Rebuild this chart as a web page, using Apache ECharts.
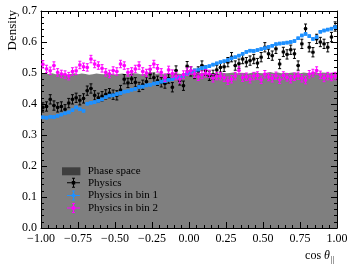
<!DOCTYPE html>
<html>
<head>
<meta charset="utf-8">
<script src="https://cdn.jsdelivr.net/npm/echarts@6/dist/echarts.min.js"></script>
<style>
html,body{margin:0;padding:0;background:#fff;}
#chart{width:357px;height:267px;}
</style>
</head>
<body>
<div id="chart"></div>
<script>
// ---- data ----
const binRange = [-1, 1];
const nBins = 80;
const xTicks = [-1.00, -0.75, -0.50, -0.25, 0.00, 0.25, 0.50, 0.75, 1.00];
const yTicks = [0.0, 0.1, 0.2, 0.3, 0.4, 0.5, 0.6, 0.7];
const seriesNames = ['Phase space', 'Physics', 'Physics in bin 1', 'Physics in bin 2'];

const phaseSpace = [0.498,0.497,0.499,0.496,0.497,0.498,0.495,0.497,0.499,0.496,0.498,0.497,0.494,0.496,0.498,0.497,0.496,0.499,0.497,0.495,
0.497,0.498,0.496,0.497,0.499,0.498,0.496,0.497,0.495,0.498,0.497,0.499,0.496,0.498,0.497,0.500,0.498,0.497,0.499,0.501,
0.498,0.500,0.499,0.501,0.497,0.499,0.500,0.498,0.501,0.499,0.500,0.502,0.499,0.501,0.500,0.498,0.501,0.502,0.500,0.499,
0.501,0.503,0.500,0.502,0.499,0.501,0.500,0.502,0.501,0.499,0.502,0.500,0.501,0.503,0.500,0.502,0.501,0.499,0.502,0.500];

const physics = [0.389,0.392,0.415,0.395,0.389,0.392,0.383,0.403,0.415,0.420,0.412,0.418,0.443,0.450,0.428,0.420,0.425,0.431,0.435,0.430,
0.428,0.445,0.480,0.468,0.481,0.470,0.455,0.462,0.472,0.497,0.485,0.475,0.470,0.466,0.482,0.454,0.508,0.476,0.459,0.522,
0.505,0.497,0.505,0.524,0.508,0.491,0.494,0.510,0.518,0.520,0.535,0.551,0.524,0.530,0.545,0.535,0.540,0.545,0.532,0.551,
0.583,0.562,0.556,0.578,0.529,0.568,0.560,0.575,0.562,0.524,0.594,0.643,0.583,0.567,0.610,0.600,0.594,0.583,0.616,0.650];

const physicsBin1 = [0.357,0.356,0.359,0.358,0.362,0.366,0.370,0.373,0.380,0.389,0.383,0.378,0.401,0.404,0.406,0.410,0.415,0.422,0.427,0.428,
0.432,0.435,0.440,0.441,0.446,0.449,0.455,0.456,0.460,0.462,0.466,0.468,0.472,0.474,0.478,0.480,0.484,0.487,0.492,0.497,
0.504,0.508,0.511,0.516,0.519,0.522,0.527,0.531,0.535,0.538,0.542,0.547,0.551,0.556,0.562,0.568,0.572,0.571,0.574,0.577,
0.580,0.584,0.588,0.593,0.595,0.596,0.598,0.600,0.603,0.612,0.621,0.626,0.619,0.610,0.616,0.633,0.637,0.640,0.643,0.648];

const physicsBin2 = [0.528,0.513,0.507,0.524,0.502,0.497,0.495,0.490,0.505,0.507,0.526,0.520,0.518,0.545,0.529,0.524,0.515,0.502,0.497,0.508,
0.505,0.529,0.524,0.502,0.505,0.513,0.524,0.505,0.500,0.512,0.529,0.515,0.502,0.485,0.510,0.498,0.490,0.480,0.495,0.504,
0.508,0.497,0.488,0.494,0.499,0.497,0.483,0.490,0.490,0.485,0.475,0.480,0.490,0.508,0.485,0.488,0.480,0.490,0.492,0.478,
0.496,0.487,0.483,0.491,0.478,0.492,0.486,0.480,0.488,0.491,0.483,0.477,0.496,0.500,0.508,0.494,0.484,0.490,0.487,0.490];

const physicsErr = 0.015;
const bin1Err = 0.004;
const bin2Err = 0.012;

// ---- build ----
const binWidth = (binRange[1] - binRange[0]) / nBins;
const edges = Array.from({length: nBins + 1}, (_, i) => binRange[0] + i * binWidth);
const centers = edges.slice(0, nBins).map(e => e + binWidth / 2);

const phaseData = edges.map((e, i) => [e, phaseSpace[Math.min(i, nBins - 1)]]);
const ebData = (vals, err) => centers.map((c, i) => [c, vals[i], err]);

const FONT = 'Liberation Serif';

function errRender(markerSize) {
  return function (params, api) {
    const x = api.value(0), y = api.value(1), e = api.value(2);
    const hw = binWidth / 2;
    const pL = api.coord([x - hw, y]), pR = api.coord([x + hw, y]);
    const pT = api.coord([x, y + e]), pB = api.coord([x, y - e]);
    const pc = api.coord([x, y]);
    const color = api.visual('color');
    const s = markerSize;
    return {
      type: 'group',
      children: [
        {type: 'line', shape: {x1: pL[0], y1: pL[1], x2: pR[0], y2: pR[1]}, style: {stroke: color, lineWidth: 1}},
        {type: 'line', shape: {x1: pT[0], y1: pT[1], x2: pB[0], y2: pB[1]}, style: {stroke: color, lineWidth: 1}},
        {type: 'line', shape: {x1: pT[0] - 1.5, y1: pT[1], x2: pT[0] + 1.5, y2: pT[1]}, style: {stroke: color, lineWidth: 1}},
        {type: 'line', shape: {x1: pB[0] - 1.5, y1: pB[1], x2: pB[0] + 1.5, y2: pB[1]}, style: {stroke: color, lineWidth: 1}},
        {type: 'rect', shape: {x: pc[0] - s / 2, y: pc[1] - s / 2, width: s, height: s}, style: {fill: color}}
      ]
    };
  };
}

const rectIcon = 'path://M0,0h23v10h-23z';
const crossIcon = 'path://M0,4.5h13v1h-13z M6,0h1v10h-1z M4.8,3.3h3.4v3.4h-3.4z M5,0h3v1h-3z M5,9h3v1h-3z';

const axisCommon = {
  type: 'value',
  axisLine: {show: true, onZero: false, lineStyle: {color: '#000', width: 1}},
  axisTick: {show: true, inside: true, length: 6, lineStyle: {color: '#000', width: 1}},
  minorTick: {show: true, splitNumber: 5, length: 3, lineStyle: {color: '#000', width: 1}},
  splitLine: {show: false},
  minorSplitLine: {show: false}
};

const option = {
  animation: false,
  backgroundColor: '#fff',
  grid: {left: 41, right: 20, top: 11, bottom: 39, containLabel: false},
  xAxis: [
    Object.assign({}, axisCommon, {
      position: 'bottom', min: xTicks[0], max: xTicks[xTicks.length - 1], interval: xTicks[1] - xTicks[0],
      axisLabel: {show: true, margin: 5, color: '#000', fontFamily: FONT, fontSize: 12,
        formatter: v => (v < 0 ? '\u2212' : '') + Math.abs(v).toFixed(2), showMinLabel: true, showMaxLabel: true}
    }),
    Object.assign({}, axisCommon, {
      position: 'top', min: xTicks[0], max: xTicks[xTicks.length - 1], interval: xTicks[1] - xTicks[0],
      axisLabel: {show: false}
    })
  ],
  yAxis: [
    Object.assign({}, axisCommon, {
      position: 'left', min: yTicks[0], max: yTicks[yTicks.length - 1], interval: yTicks[1] - yTicks[0],
      axisLabel: {show: true, margin: 4, color: '#000', fontFamily: FONT, fontSize: 12,
        formatter: v => v.toFixed(1)}
    }),
    Object.assign({}, axisCommon, {
      position: 'right', min: yTicks[0], max: yTicks[yTicks.length - 1], interval: yTicks[1] - yTicks[0],
      axisLabel: {show: false}
    })
  ],
  legend: [
    {
      orient: 'vertical', left: 57, top: 160,
      itemWidth: 23, itemHeight: 8, itemGap: 0,
      textStyle: {fontFamily: FONT, fontSize: 11, color: '#000', lineHeight: 12.6},
      itemStyle: {borderWidth: 0},
      selectedMode: false,
      data: [{name: seriesNames[0], icon: rectIcon}]
    },
    {
      orient: 'vertical', left: 62, top: 171.5,
      itemWidth: 13, itemHeight: 10, itemGap: 0,
      textStyle: {fontFamily: FONT, fontSize: 11, color: '#000', lineHeight: 12.6, padding: [0, 0, 0, 3]},
      itemStyle: {borderWidth: 0},
      selectedMode: false,
      data: [
        {name: seriesNames[1], icon: crossIcon},
        {name: seriesNames[2], icon: crossIcon},
        {name: seriesNames[3], icon: crossIcon}
      ]
    }
  ],
  graphic: [
    {type: 'text', x: 13, y: 10, rotation: Math.PI / 2,
      style: {text: 'Density', fontFamily: FONT, fontSize: 13, fill: '#000', align: 'right', verticalAlign: 'middle'}},
    {type: 'text', x: 330, y: 256,
      style: {text: '{a|cos }{b|\u03B8}', align: 'right', verticalAlign: 'middle', fill: '#000',
        rich: {a: {fontFamily: FONT, fontSize: 12, fill: '#000'}, b: {fontFamily: FONT, fontSize: 12, fontStyle: 'italic', fill: '#000'}}}},
    {type: 'text', x: 331, y: 260,
      style: {text: '||', fontFamily: FONT, fontSize: 8, fill: '#000', align: 'left', verticalAlign: 'middle'}}
  ],
  series: [
    {
      name: seriesNames[0], type: 'line', step: 'end', data: phaseData,
      showSymbol: false, symbol: 'none',
      lineStyle: {width: 0, color: 'rgba(0,0,0,0.5)'},
      itemStyle: {color: 'rgba(0,0,0,0.5)'},
      areaStyle: {color: 'rgba(0,0,0,0.5)', opacity: 1},
      z: 1
    },
    {
      name: seriesNames[1], type: 'custom', renderItem: errRender(3), data: ebData(physics, physicsErr),
      itemStyle: {color: '#000000'}, clip: true, z: 2, encode: {x: 0, y: 1}
    },
    {
      name: seriesNames[2], type: 'custom', renderItem: errRender(3.5), data: ebData(physicsBin1, bin1Err),
      itemStyle: {color: '#1E90FF'}, clip: true, z: 3, encode: {x: 0, y: 1}
    },
    {
      name: seriesNames[3], type: 'custom', renderItem: errRender(3), data: ebData(physicsBin2, bin2Err),
      itemStyle: {color: '#FF00FF'}, clip: true, z: 4, encode: {x: 0, y: 1}
    }
  ]
};

const chart = echarts.init(document.getElementById('chart'), null, {renderer: 'canvas'});
chart.setOption(option);
</script>
</body>
</html>
